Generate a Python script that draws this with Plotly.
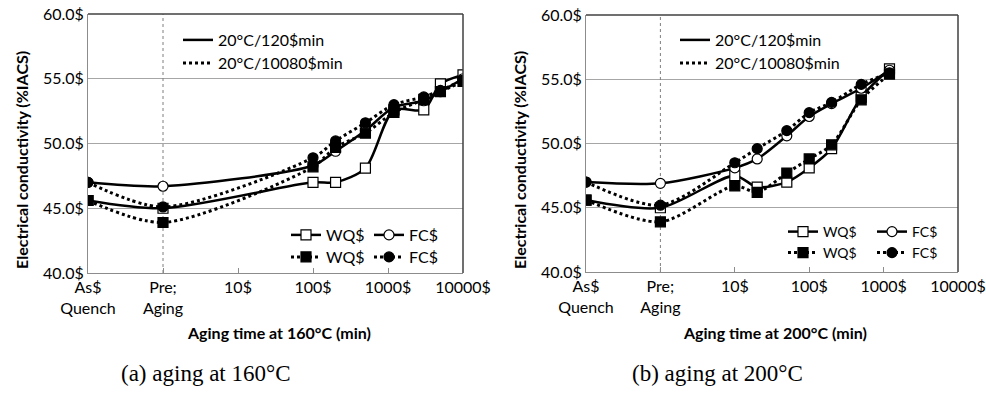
import plotly.graph_objects as go

# ---------------- data ----------------
AQ_X = 0.1   # "As-Quench" stage placed one decade below "Pre-Aging"
PA_X = 1     # "Pre-Aging" stage

# aging at 160 C
t160 = [100, 200, 500, 1200, 3000, 5000, 10000]
wq120_160 = [45.6, 45.0, 47.0, 47.0, 48.1, 52.6, 52.6, 54.6, 55.3]
fc120_160 = [47.0, 46.7, 48.3, 49.4, 51.0, 52.8, 53.3, 54.0, 55.0]
wq10080_160 = [45.6, 43.9, 48.2, 49.7, 50.8, 52.4, 53.4, 54.0, 54.8]
fc10080_160 = [47.0, 45.1, 48.9, 50.2, 51.6, 53.0, 53.6, 54.1, 54.9]

# aging at 200 C
t200 = [10, 20, 50, 100, 200, 500, 1200]
wq120_200 = [45.6, 45.0, 47.5, 46.6, 47.0, 48.1, 49.6, 53.6, 55.8]
fc120_200 = [47.0, 46.9, 48.1, 48.8, 50.6, 52.1, 53.1, 54.3, 55.7]
wq10080_200 = [45.6, 43.9, 46.7, 46.2, 47.7, 48.8, 49.9, 53.4, 55.4]
fc10080_200 = [47.0, 45.2, 48.5, 49.6, 51.0, 52.4, 53.2, 54.6, 55.5]

x_tickvals = [0.1, 1, 10, 100, 1000, 10000]
x_ticktext = ["As$<br>Quench", "Pre;<br>Aging", "10$", "100$", "1000$", "10000$"]
y_tickvals = [40, 45, 50, 55, 60]
y_ticktext = ["40.0$", "45.0$", "50.0$", "55.0$", "60.0$"]

top_legend_text = ["20°C/120$min", "20°C/10080$min"]
series_names = ["WQ$", "FC$", "WQ$", "FC$"]
x_titles = ["Aging time at 160°C (min)", "Aging time at 200°C (min)"]
y_title = "Electrical conductivity (%IACS)"
captions = ["(a) aging at 160°C", "(b) aging at 200°C"]

# ---------------- styling ----------------
W, H = 986, 394
FONT = "Lato"
BLACK = "#000000"
GRID = "#a6a6a6"
AXIS = "#8c8c8c"
BORDER = "#404040"

panels = [
    dict(t=t160, series=[wq120_160, fc120_160, wq10080_160, fc10080_160],
         xd=(88, 463), yd=(14, 273), xref="x", yref="y",
         legs=["legend", "legend2", "legend3", "legend4"],
         top_leg_x=178, top_leg_y=(40, 63), row_leg_x=286, row_leg_y=(235, 257),
         leg_font=16, entry=38, ytitle_x=21, xtitle_x=279, cap_x=206),
    dict(t=t200, series=[wq120_200, fc120_200, wq10080_200, fc10080_200],
         xd=(586, 958), yd=(15, 272), xref="x2", yref="y2",
         legs=["legend5", "legend6", "legend7", "legend8"],
         top_leg_x=675, top_leg_y=(40, 63), row_leg_x=783, row_leg_y=(232, 253),
         leg_font=14, entry=44, ytitle_x=519, xtitle_x=775, cap_x=717),
]

def px_x(v):
    return v / W

def px_y(v):
    return 1 - v / H

fig = go.Figure()

styles = [
    dict(symbol="square", fill="white", dash="solid"),
    dict(symbol="circle", fill="white", dash="solid"),
    dict(symbol="square", fill=BLACK, dash="dot"),
    dict(symbol="circle", fill=BLACK, dash="dot"),
]

layout_extra = {}
annotations = []
shapes = []

for i, p in enumerate(panels):
    xs = [AQ_X, PA_X] + p["t"]
    # Pre-aging reference line
    fig.add_trace(go.Scatter(
        x=[PA_X, PA_X], y=[y_tickvals[0], y_tickvals[-1]], mode="lines",
        line=dict(color="#7f7f7f", width=1, dash="dot"),
        xaxis=p["xref"], yaxis=p["yref"], showlegend=False, hoverinfo="skip"))
    # dummy entries for the line-style legend
    for k, (txt, dash) in enumerate(zip(top_legend_text, ["solid", "dot"])):
        fig.add_trace(go.Scatter(
            x=[None], y=[None], mode="lines", name=txt,
            line=dict(color=BLACK, width=2.5 if dash == "solid" else 3, dash=dash),
            xaxis=p["xref"], yaxis=p["yref"],
            legend=p["legs"][0] if k == 0 else p["legs"][1]))
    for s, (vals, st, nm) in enumerate(zip(p["series"], styles, series_names)):
        fig.add_trace(go.Scatter(
            x=xs, y=vals, mode="lines+markers", name=nm,
            line=dict(color=BLACK, width=2.5 if st["dash"] == "solid" else 3,
                      dash=st["dash"], shape="spline", smoothing=0.8),
            marker=dict(symbol=st["symbol"], size=10, color=st["fill"],
                        line=dict(color=BLACK, width=1.2)),
            xaxis=p["xref"], yaxis=p["yref"],
            legend=p["legs"][2] if s < 2 else p["legs"][3]))

    xa = "xaxis" if i == 0 else "xaxis2"
    ya = "yaxis" if i == 0 else "yaxis2"
    layout_extra[xa] = dict(
        type="log", range=[-1, 4], domain=[px_x(p["xd"][0]), px_x(p["xd"][1])],
        tickvals=x_tickvals, ticktext=x_ticktext, ticks="inside", ticklen=5,
        tickcolor=AXIS, showgrid=False, zeroline=False, showline=True,
        linecolor=AXIS, linewidth=1, anchor="y" if i == 0 else "y2",
        automargin=False,
        tickfont=dict(family=FONT, size=16, color=BLACK))
    layout_extra[ya] = dict(
        range=[40, 60], domain=[px_y(p["yd"][1]), px_y(p["yd"][0])],
        tickvals=y_tickvals, ticktext=y_ticktext, showgrid=True, gridcolor=GRID,
        gridwidth=1, zeroline=False, showline=True, linecolor=AXIS, linewidth=1,
        ticks="", anchor="x" if i == 0 else "x2", automargin=False,
        tickfont=dict(family=FONT, size=16, color=BLACK))

    # legends
    for j, lg in enumerate(p["legs"]):
        if j < 2:
            lx, ly = p["top_leg_x"], p["top_leg_y"][j]
        else:
            lx, ly = p["row_leg_x"], p["row_leg_y"][j - 2]
        layout_extra[lg] = dict(
            x=px_x(lx), y=px_y(ly), xanchor="left", yanchor="middle",
            orientation="h", bgcolor="rgba(0,0,0,0)", borderwidth=0,
            entrywidth=p["entry"] if j >= 2 else None,
            font=dict(family=FONT, size=16 if j < 2 else p["leg_font"], color=BLACK),
            itemwidth=30, tracegroupgap=0)

    # dark top/right plot border
    shapes.append(dict(type="line", xref=f"{p['xref']} domain", yref=f"{p['yref']} domain",
                       x0=0, x1=1, y0=1, y1=1, line=dict(color=BORDER, width=1.5)))
    shapes.append(dict(type="line", xref=f"{p['xref']} domain", yref=f"{p['yref']} domain",
                       x0=1, x1=1, y0=0, y1=1, line=dict(color=BORDER, width=1.5)))

    annotations.append(dict(text=f"<b>{y_title}</b>", x=px_x(p["ytitle_x"]), y=px_y(160),
                            xref="paper", yref="paper", textangle=-90, showarrow=False,
                            xanchor="center", yanchor="middle",
                            font=dict(family=FONT, size=16, color=BLACK)))
    annotations.append(dict(text=f"<b>{x_titles[i]}</b>", x=px_x(p["xtitle_x"]), y=px_y(332),
                            xref="paper", yref="paper", showarrow=False,
                            xanchor="center", yanchor="middle",
                            font=dict(family=FONT, size=16, color=BLACK)))
    annotations.append(dict(text=captions[i], x=px_x(p["cap_x"]), y=px_y(373),
                            xref="paper", yref="paper", showarrow=False,
                            xanchor="center", yanchor="middle",
                            font=dict(family="Liberation Serif", size=23, color=BLACK)))

fig.update_layout(
    width=W, height=H, margin=dict(l=0, r=0, t=0, b=0),
    paper_bgcolor="white", plot_bgcolor="white",
    annotations=annotations, shapes=shapes, **layout_extra)

fig.write_html("out.html")
